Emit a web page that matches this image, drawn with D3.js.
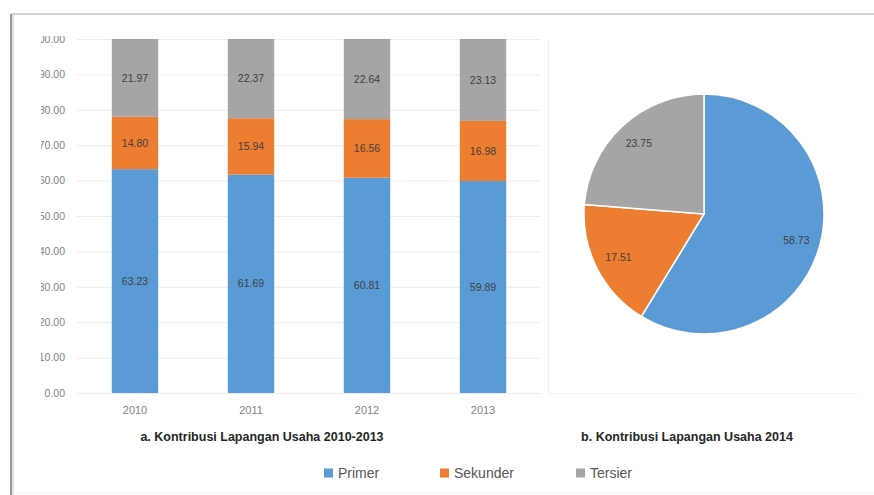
<!DOCTYPE html>
<html>
<head>
<meta charset="utf-8">
<script src="https://cdn.jsdelivr.net/npm/d3@7"></script>
<style>
  body { margin: 0; background: #fff; }
  svg { display: block; font-family: "Liberation Sans", "DejaVu Sans", sans-serif; }
</style>
</head>
<body>
<div id="chart"></div>
<script>
// data
var years = ['2010', '2011', '2012', '2013'];
var primer = [63.23, 61.69, 60.81, 59.89];
var sekunder = [14.80, 15.94, 16.56, 16.98];
var tersier = [21.97, 22.37, 22.64, 23.13];
var pieNames = ['Primer', 'Sekunder', 'Tersier'];
var pieValues = [58.73, 17.51, 23.75];
var yTicks = [0, 10, 20, 30, 40, 50, 60, 70, 80, 90, 100];

var cols = {Primer: '#5b9bd5', Sekunder: '#ed7d31', Tersier: '#a5a5a5'};

var W = 874, H = 495;
var svg = d3.select('#chart').append('svg')
  .attr('width', W).attr('height', H);

// frame of the pasted picture
svg.append('rect').attr('x', 0).attr('y', 0).attr('width', W).attr('height', H).attr('fill', '#fff');
svg.append('line').attr('x1', 11).attr('x2', W).attr('y1', 14).attr('y2', 14)
  .attr('stroke', '#d4d4d4').attr('stroke-width', 2);
svg.append('line').attr('x1', 11).attr('x2', 11).attr('y1', 14).attr('y2', H)
  .attr('stroke', '#9a9a9a').attr('stroke-width', 2);
svg.append('line').attr('x1', 13).attr('x2', 13).attr('y1', 15).attr('y2', H)
  .attr('stroke', '#e2e2e2').attr('stroke-width', 2);
svg.append('line').attr('x1', 12).attr('x2', W).attr('y1', 493).attr('y2', 493)
  .attr('stroke', '#eeeeee').attr('stroke-width', 1);

// ---- stacked bar chart
var g = {left: 77, right: 541, top: 39, bottom: 393};
g.x = d3.scaleBand().domain(years).range([g.left, g.right]).paddingInner(0.6).paddingOuter(0.3);
g.y = d3.scaleLinear().domain([0, 100]).range([g.bottom, g.top]);

svg.append('g').selectAll('line').data(yTicks).enter().append('line')
  .attr('x1', g.left).attr('x2', g.right - 1)
  .attr('y1', function(d) { return g.y(d) + 0.5; })
  .attr('y2', function(d) { return g.y(d) + 0.5; })
  .attr('stroke', '#ececec');

// the source picture is cut just left of the tick labels
svg.append('clipPath').attr('id', 'axclip')
  .append('rect').attr('x', 41).attr('y', 36).attr('width', 37).attr('height', 370);

var yAxis = svg.append('g')
  .attr('clip-path', 'url(#axclip)')
  .append('g')
  .attr('transform', 'translate(' + (g.left - 2) + ',0)')
  .call(d3.axisLeft(g.y).tickValues(yTicks).tickFormat(d3.format('.2f')).tickSize(0).tickPadding(10));
yAxis.select('.domain').remove();
yAxis.selectAll('text').attr('fill', '#7f7f7f').style('font-size', '10.5px');

var stackData = years.map(function(d, i) {
  return {year: d, Primer: primer[i], Sekunder: sekunder[i], Tersier: tersier[i]};
});
var series = d3.stack().keys(pieNames)(stackData);

var layer = svg.append('g').selectAll('g').data(series).enter().append('g')
  .attr('fill', function(d) { return cols[d.key]; });
layer.selectAll('rect').data(function(d) { return d; }).enter().append('rect')
  .attr('x', function(d) { return g.x(d.data.year); })
  .attr('width', g.x.bandwidth())
  .attr('y', function(d) { return g.y(d[1]); })
  .attr('height', function(d) { return g.y(d[0]) - g.y(d[1]); });

layer.selectAll('text').data(function(d) { return d.map(function(v) { return {v: v, key: d.key}; }); })
  .enter().append('text')
  .attr('x', function(d) { return g.x(d.v.data.year) + g.x.bandwidth() / 2; })
  .attr('y', function(d) { return (g.y(d.v[0]) + g.y(d.v[1])) / 2; })
  .attr('dy', '0.35em')
  .attr('text-anchor', 'middle')
  .attr('fill', '#404040')
  .style('font-size', '10.5px')
  .text(function(d) { return d.v.data[d.key].toFixed(2); });

var xAxis = svg.append('g')
  .attr('transform', 'translate(0,' + g.bottom + ')')
  .call(d3.axisBottom(g.x).tickSize(0).tickPadding(13));
xAxis.select('.domain').remove();
xAxis.selectAll('text').attr('fill', '#7f7f7f').style('font-size', '11px');

svg.append('text').attr('x', 262).attr('y', 441).attr('text-anchor', 'middle')
  .attr('fill', '#262626').style('font-size', '12.5px').style('font-weight', 'bold')
  .text('a. Kontribusi Lapangan Usaha 2010-2013');

// ---- pie chart
svg.append('path').attr('d', 'M548.5,39V393.5H858')
  .attr('fill', 'none').attr('stroke', '#efefef');

var p = {cx: 704, cy: 214, r: 120};
var pie = d3.pie().sort(null).value(function(d) { return d; });
var arc = d3.arc().innerRadius(0).outerRadius(p.r);
var labelArc = d3.arc().innerRadius(p.r * 0.8).outerRadius(p.r * 0.8);

var pg = svg.append('g').attr('transform', 'translate(' + p.cx + ',' + p.cy + ')');
var slices = pie(pieValues);
pg.selectAll('path').data(slices).enter().append('path')
  .attr('d', arc)
  .attr('fill', function(d, i) { return cols[pieNames[i]]; })
  .attr('stroke', '#fff').attr('stroke-width', 1.5);
pg.selectAll('text').data(slices).enter().append('text')
  .attr('transform', function(d) { return 'translate(' + labelArc.centroid(d) + ')'; })
  .attr('dy', '0.35em')
  .attr('text-anchor', 'middle')
  .attr('fill', '#404040')
  .style('font-size', '10.5px')
  .text(function(d) { return d.data.toFixed(2); });

svg.append('text').attr('x', 687).attr('y', 441).attr('text-anchor', 'middle')
  .attr('fill', '#262626').style('font-size', '12.5px').style('font-weight', 'bold')
  .text('b. Kontribusi Lapangan Usaha 2014');

// ---- legend
var legendX = [324, 440, 576];
var lg = svg.append('g').selectAll('g').data(pieNames).enter().append('g')
  .attr('transform', function(d, i) { return 'translate(' + legendX[i] + ',473)'; });
lg.append('rect').attr('x', 0).attr('y', -4.5).attr('width', 9).attr('height', 9)
  .attr('fill', function(d) { return cols[d]; });
lg.append('text').attr('x', 14).attr('dy', '0.35em')
  .attr('fill', '#555').style('font-size', '14px')
  .text(function(d) { return d; });
</script>
</body>
</html>
